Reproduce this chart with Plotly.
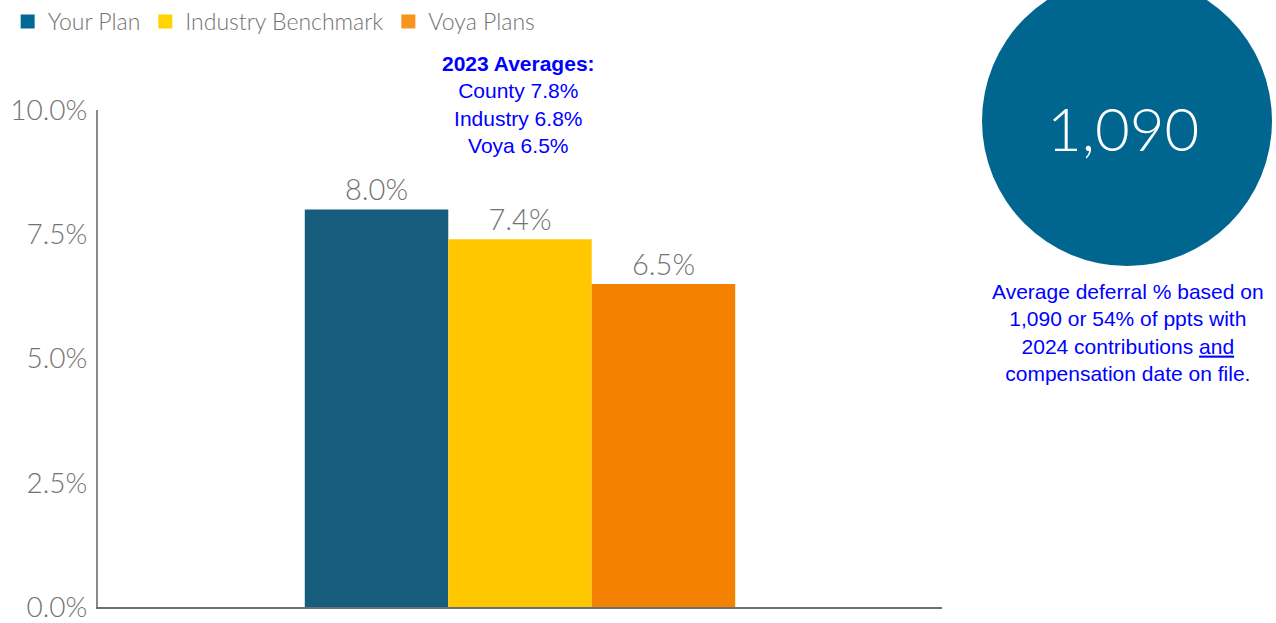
import plotly.graph_objects as go

# Average deferral rates by comparison group
series = ["Your Plan", "Industry Benchmark", "Voya Plans"]
values = [8.0, 7.4, 6.5]
bar_colors = ["#165C7D", "#FFC700", "#F48200"]
legend_colors = ["#006A94", "#FFD400", "#F7941D"]
category = ["Average Deferral"]

y_ticks = [0.0, 2.5, 5.0, 7.5, 10.0]
y_tick_labels = ["0.0%", "2.5%", "5.0%", "7.5%", "10.0%"]
participants = "1,090"
averages_title = "2023 Averages:"
averages_lines = ["County 7.8%", "Industry 6.8%", "Voya 6.5%"]
note_lines = [
    "Average deferral % based on",
    "1,090 or 54% of ppts with",
    "2024 contributions <u>and</u>",
    "compensation date on file.",
]

GRAY = "#737373"
FONT = "Lato, 'Open Sans', sans-serif"
BLUE_TEXT = "Arial, 'Liberation Sans', sans-serif"

fig = go.Figure()

for name, val, col in zip(series, values, bar_colors):
    fig.add_trace(go.Bar(
        x=category, y=[val], name=name, marker_color=col,
        marker_line_width=0, showlegend=False,
        text=[f"{val:.1f}%"], textposition="outside",
        textfont=dict(size=29, color=GRAY, family=FONT, weight=300),
        cliponaxis=False,
    ))

# Legend entries (square markers, no data drawn)
for name, col in zip(series, legend_colors):
    fig.add_trace(go.Scatter(
        x=[None], y=[None], name=name, mode="markers",
        marker=dict(symbol="square", size=14, color=col),
        showlegend=True, hoverinfo="skip",
    ))

fig.update_layout(
    width=1276, height=623,
    margin=dict(l=98, r=334, t=110, b=16, autoexpand=False),
    paper_bgcolor="white", plot_bgcolor="white",
    barmode="group", bargap=0.49, bargroupgap=0,
    font=dict(family=FONT, color=GRAY),
    legend=dict(
        orientation="h", xref="container", yref="container",
        x=0.006, y=1.0, xanchor="left", yanchor="top",
        font=dict(size=23, color=GRAY, family=FONT, weight=300),
        itemwidth=30, tracegroupgap=0,
        bgcolor="rgba(0,0,0,0)",
    ),
    xaxis=dict(
        showticklabels=False, showgrid=False, zeroline=False,
        showline=True, linecolor="#6E6E6E", linewidth=2, ticks="",
        automargin=False,
    ),
    yaxis=dict(
        range=[0, 10], tickvals=y_ticks, ticktext=y_tick_labels,
        showgrid=False, zeroline=False, showline=True,
        linecolor="#8A8A8A", linewidth=2, ticks="",
        tickfont=dict(size=28, color=GRAY, family=FONT, weight=300),
        ticklabelstandoff=3, automargin=False,
    ),
)

# Participant count badge
fig.add_shape(
    type="circle", xref="paper", yref="paper",
    x0=(982 - 98) / 844, x1=(1272 - 98) / 844,
    y0=(607 - 266) / 497, y1=(607 + 24) / 497,
    fillcolor="#00668F", line=dict(width=0), layer="above",
)
fig.add_annotation(
    text=participants, xref="paper", yref="paper",
    x=(1123 - 98) / 844, y=(607 - 128) / 497,
    showarrow=False, xanchor="center", yanchor="middle",
    font=dict(size=60, color="white", family=FONT, weight=300),
)

# Prior-year averages
fig.add_annotation(
    text=f"<b>{averages_title}</b><br>" + "<br>".join(averages_lines),
    xref="paper", yref="paper",
    x=(518 - 98) / 844, y=(607 - 50) / 497,
    showarrow=False, xanchor="center", yanchor="top", align="center",
    font=dict(size=21, color="#0000FF", family=BLUE_TEXT),
)

# Explanatory note
fig.add_annotation(
    text="<br>".join(note_lines),
    xref="paper", yref="paper",
    x=(1128 - 98) / 844, y=(607 - 278) / 497,
    showarrow=False, xanchor="center", yanchor="top", align="center",
    font=dict(size=21, color="#0000FF", family=BLUE_TEXT),
)

fig.write_html("out.html")
